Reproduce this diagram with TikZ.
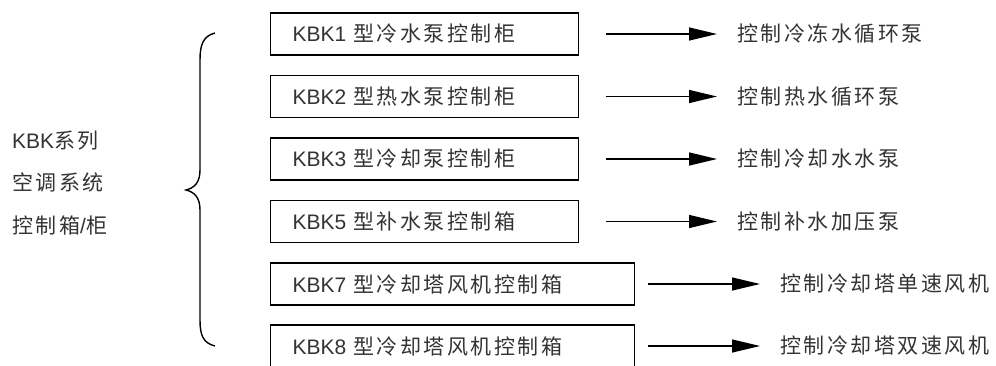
\documentclass[tikz,border=0pt]{standalone}
\usepackage{fontspec}
\setmainfont{Liberation Sans}
\newfontfamily\cjk[LetterSpace=12]{Noto Sans CJK SC}
\usetikzlibrary{arrows.meta}
\definecolor{textgray}{HTML}{333333}
\tikzset{
  box/.style={draw, line width=1.3pt, anchor=west, minimum height=42pt,
    inner xsep=22pt, text width=264pt, align=left,
    font=\fontsize{21}{24}\selectfont, text=textgray},
  widebox/.style={box, text width=320pt},
  label/.style={anchor=west, inner sep=0pt, font=\fontsize{21}{24}\selectfont, text=textgray},
  arr/.style={line width=1.3pt, -{Triangle[length=28pt,width=13pt]}, shorten >=20pt}
}
\begin{document}
\begin{tikzpicture}[x=1pt,y=-1pt]
      \clip (0,0) rectangle (996,365);
      \node[label, align=left, font=\fontsize{21}{42.5}\selectfont] (sys) at (12,183)
        {KBK{\cjk 系列}\\{\cjk 空调系统}\\{\cjk 控制箱}/{\cjk 柜}};
      \draw[line width=1.4pt]
        (215,33) .. controls (203,36) and (200,45) .. (200,60) -- (200,170)
        .. controls (200,183) and (194,188) .. (186,190)
        .. controls (194,192) and (200,197) .. (200,210) -- (200,320)
        .. controls (200,335) and (203,343) .. (215,346);
      \node[box] (b1) at (270,34) {KBK1 {\cjk 型冷水泵控制柜}};
      \node[box] (b2) at (270,96.5) {KBK2 {\cjk 型热水泵控制柜}};
      \node[box] (b3) at (270,159) {KBK3 {\cjk 型冷却泵控制柜}};
      \node[box] (b5) at (270,221.5) {KBK5 {\cjk 型补水泵控制箱}};
      \node[widebox] (b7) at (270,284) {KBK7 {\cjk 型冷却塔风机控制箱}};
      \node[widebox] (b8) at (270,346) {KBK8 {\cjk 型冷却塔风机控制箱}};
      \node[label] (t1) at (737,34) {\cjk 控制冷冻水循环泵};
      \node[label] (t2) at (737,96.5) {\cjk 控制热水循环泵};
      \node[label] (t3) at (737,159) {\cjk 控制冷却水水泵};
      \node[label] (t5) at (737,221.5) {\cjk 控制补水加压泵};
      \node[label] (t7) at (780,284) {\cjk 控制冷却塔单速风机};
      \node[label] (t8) at (780,346) {\cjk 控制冷却塔双速风机};
      \begin{scope}[arr]
        \draw[shorten <=27pt] (b1) to (t1);
        \draw[shorten <=27pt] (b2) to (t2);
        \draw[shorten <=27pt] (b3) to (t3);
        \draw[shorten <=27pt] (b5) to (t5);
        \draw[shorten <=13pt] (b7) to (t7);
        \draw[shorten <=13pt] (b8) to (t8);
      \end{scope}
    \end{tikzpicture}
\end{document}
